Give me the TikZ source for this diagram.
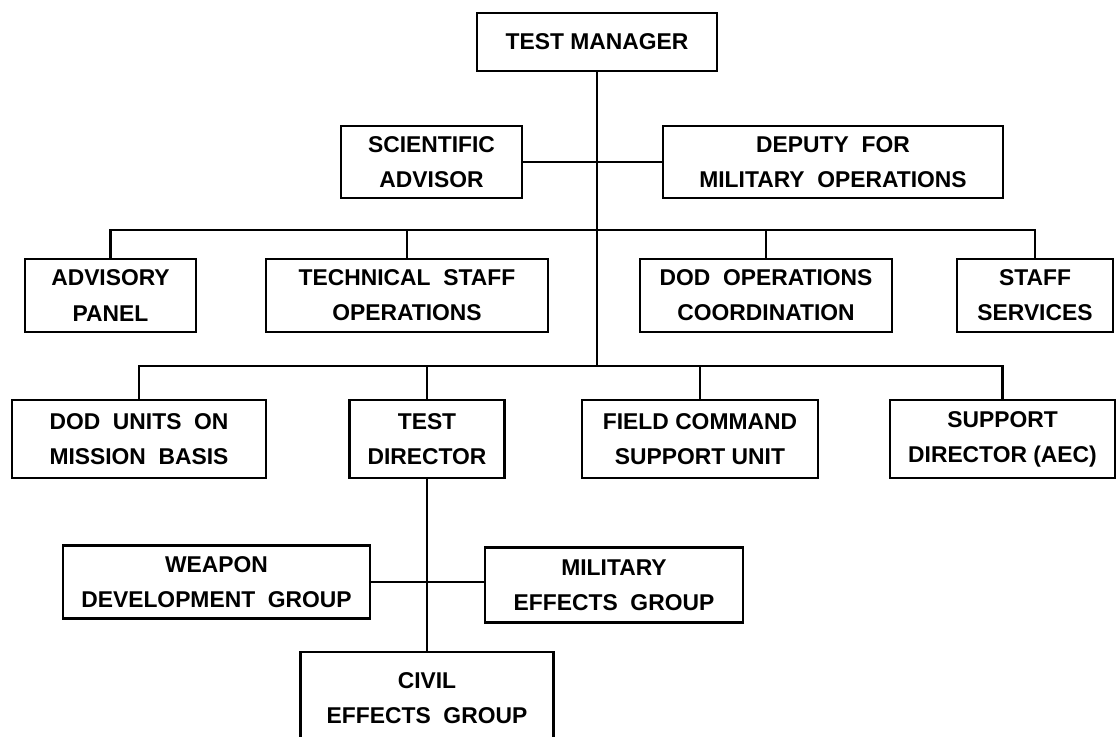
\documentclass[tikz,border=0pt]{standalone}
\usepackage{fontspec}
\setmainfont{Liberation Sans}
\tikzset{
    orgbox/.style={rectangle, draw, line width=1.3pt, align=center, inner sep=2pt,
        font=\fontsize{13}{20}\selectfont\bfseries},
    orgline/.style={line width=1.3pt}
}

\begin{document}
\begin{tikzpicture}
    % Page frame
    \useasboundingbox (0, 0) rectangle (22.34, -14.72);

    % Head of the chart
    \node[orgbox, minimum width=4.8cm, minimum height=1.16cm] (manager) at (11.94, -0.84) {TEST MANAGER};

    \node[orgbox, minimum width=3.62cm, minimum height=1.44cm] (scientific) at (8.63, -3.24)
        {SCIENTIFIC\\ADVISOR};
    \node[orgbox, minimum width=6.8cm, minimum height=1.44cm] (deputy) at (16.66, -3.24)
        {DEPUTY \ FOR\\MILITARY \ OPERATIONS};

    % Staff row
    \node[orgbox, minimum width=3.42cm, minimum height=1.46cm] (advisory) at (2.21, -5.91)
        {ADVISORY\\PANEL};
    \node[orgbox, minimum width=5.64cm, minimum height=1.46cm] (technical) at (8.14, -5.91)
        {TECHNICAL \ STAFF\\OPERATIONS};
    \node[orgbox, minimum width=5.04cm, minimum height=1.46cm] (dodops) at (15.32, -5.91)
        {DOD \ OPERATIONS\\COORDINATION};
    \node[orgbox, minimum width=3.12cm, minimum height=1.46cm] (staff) at (20.7, -5.91)
        {STAFF\\SERVICES};

    % Line row
    \node[orgbox, minimum width=5.08cm, minimum height=1.56cm] (dodunits) at (2.78, -8.78)
        {DOD \ UNITS \ ON\\MISSION \ BASIS};
    \node[orgbox, minimum width=3.1cm, minimum height=1.56cm] (director) at (8.54, -8.78)
        {TEST\\DIRECTOR};
    \node[orgbox, minimum width=4.72cm, minimum height=1.56cm] (fieldcmd) at (14.0, -8.78)
        {FIELD COMMAND\\SUPPORT UNIT};
    \node[orgbox, minimum width=4.5cm, minimum height=1.56cm] (support) at (20.05, -8.78)
        {SUPPORT\\DIRECTOR (AEC)};

    % Test groups
    \node[orgbox, minimum width=6.14cm, minimum height=1.46cm] (weapon) at (4.33, -11.64)
        {WEAPON\\DEVELOPMENT \ GROUP};
    \node[orgbox, minimum width=5.16cm, minimum height=1.5cm] (military) at (12.28, -11.7)
        {MILITARY\\EFFECTS \ GROUP};
    \node[orgbox, minimum width=5.06cm, minimum height=1.84cm] (civil) at (8.54, -13.96)
        {CIVIL\\EFFECTS \ GROUP};

    % Bus lines
    \coordinate (barone) at (0, -4.6);
    \coordinate (bartwo) at (0, -7.32);

    % Connectors
    \draw[orgline] (manager.south) -- (manager.south |- bartwo);
    \draw[orgline] (scientific.east) -- (deputy.west);

    \draw[orgline] (advisory.north) |- (barone -| staff.north) -- (staff.north);
    \draw[orgline] (technical.north) -- (technical.north |- barone);
    \draw[orgline] (dodops.north) -- (dodops.north |- barone);

    \draw[orgline] (dodunits.north) |- (bartwo -| support.north) -- (support.north);
    \draw[orgline] (director.north) -- (director.north |- bartwo);
    \draw[orgline] (fieldcmd.north) -- (fieldcmd.north |- bartwo);

    \draw[orgline] (director.south) -- (civil.north);
    \draw[orgline] (weapon.east) -- (weapon.east -| military.west);
\end{tikzpicture}
\end{document}
